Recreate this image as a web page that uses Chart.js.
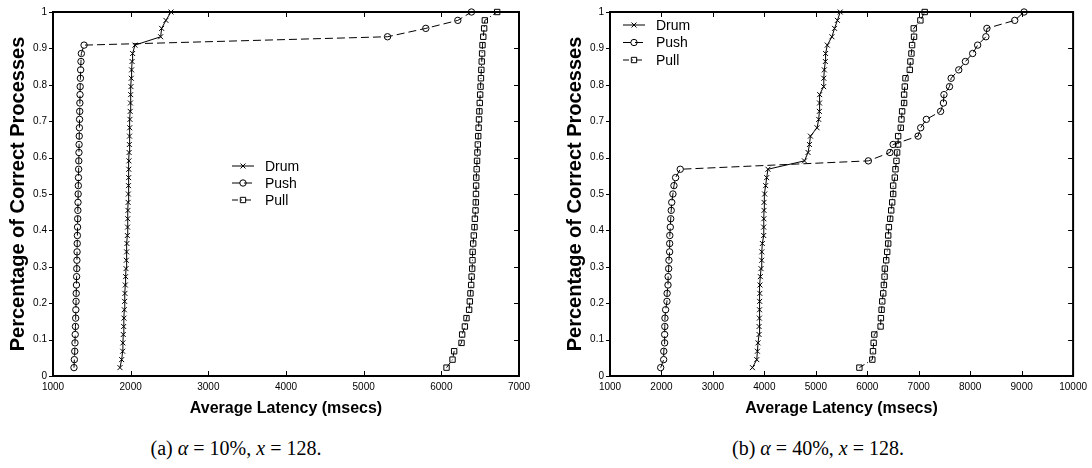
<!DOCTYPE html>
<html>
<head>
<meta charset="utf-8">
<script src="https://cdn.jsdelivr.net/npm/chart.js@4.4.0/dist/chart.umd.min.js"></script>
<style>
body { margin: 0; background: #fff; width: 1092px; height: 468px; overflow: hidden; position: relative; }
canvas { position: absolute; top: 0; }
#chartA { left: 0; }
#chartB { left: 557px; }
.caption { position: absolute; top: 437px; font-family: "Liberation Serif", "DejaVu Serif", serif; font-size: 20px; white-space: nowrap; transform: translateX(-50%); color: #000; }
</style>
</head>
<body>
<canvas id="chartA" width="546" height="430"></canvas>
<canvas id="chartB" width="535" height="430"></canvas>
<div class="caption" style="left:236px">(a) <i>α</i> = 10%, <i>x</i> = 128.</div>
<div class="caption" style="left:818px">(b) <i>α</i> = 40%, <i>x</i> = 128.</div>
<script>
// fraction of correct processes that have received the message (y axis)
const fractions = [0.023, 0.045, 0.068, 0.091, 0.114, 0.136, 0.159, 0.182, 0.205, 0.227,
    0.25, 0.273, 0.295, 0.318, 0.341, 0.364, 0.386, 0.409, 0.432, 0.455,
    0.477, 0.5, 0.523, 0.545, 0.568, 0.591, 0.614, 0.636, 0.659, 0.682,
    0.705, 0.727, 0.75, 0.773, 0.795, 0.818, 0.841, 0.864, 0.886, 0.909,
    0.932, 0.955, 0.977, 1.0];

// (a) alpha = 10%
const drumA = [1862, 1884, 1897, 1900, 1905, 1910, 1914, 1918, 1922, 1926,
    1931, 1935, 1940, 1944, 1948, 1952, 1957, 1960, 1962, 1965,
    1967, 1970, 1972, 1974, 1976, 1978, 1980, 1983, 1985, 1988,
    1991, 1994, 1997, 2000, 2004, 2008, 2012, 2018, 2025, 2055,
    2386, 2399, 2454, 2519];
const pushA = [1270, 1275, 1280, 1283, 1286, 1289, 1292, 1294, 1297, 1299,
    1302, 1304, 1306, 1308, 1310, 1312, 1314, 1316, 1318, 1320,
    1322, 1324, 1326, 1328, 1330, 1332, 1334, 1336, 1338, 1340,
    1342, 1344, 1346, 1348, 1350, 1353, 1356, 1360, 1365, 1400,
    5307, 5800, 6212, 6388];
const pullA = [6067, 6144, 6165, 6260, 6268, 6303, 6324, 6358, 6367, 6375,
    6384, 6390, 6397, 6401, 6403, 6410, 6418, 6427, 6432, 6440,
    6444, 6446, 6448, 6450, 6455, 6460, 6465, 6470, 6475, 6480,
    6485, 6490, 6495, 6500, 6505, 6510, 6515, 6520, 6525, 6530,
    6540, 6551, 6560, 6719];

// (b) alpha = 40%
const drumB = [3768, 3852, 3865, 3877, 3897, 3897, 3903, 3906, 3909, 3912,
    3915, 3922, 3935, 3948, 3950, 3961, 3987, 3987, 3990, 3993,
    3993, 4006, 4025, 4045, 4070, 4779, 4849, 4876, 4895, 5024,
    5056, 5069, 5072, 5075, 5152, 5155, 5165, 5185, 5190, 5223,
    5313, 5364, 5420, 5474];
const pushB = [1985, 2043, 2045, 2062, 2062, 2065, 2068, 2081, 2107, 2110,
    2127, 2130, 2140, 2145, 2159, 2160, 2162, 2172, 2180, 2190,
    2200, 2223, 2243, 2275, 2365, 6021, 6440, 6503, 6987, 7038,
    7148, 7425, 7480, 7490, 7598, 7630, 7778, 7907, 8048, 8145,
    8305, 8325, 8866, 9047];
const pullB = [5847, 6098, 6111, 6124, 6137, 6259, 6265, 6278, 6291, 6310,
    6323, 6336, 6342, 6368, 6387, 6407, 6407, 6420, 6445, 6465,
    6484, 6503, 6503, 6535, 6548, 6567, 6580, 6600, 6600, 6651,
    6664, 6677, 6716, 6716, 6729, 6742, 6826, 6838, 6858, 6871,
    6909, 6903, 7032, 7116];

const seriesNames = ['Drum', 'Push', 'Pull'];
const xTickStep = 1000;
const yTickStep = 0.1;

const FONT = '"Liberation Sans", Arial, Helvetica, sans-serif';

function drawMarker(ctx, style, x, y, r) {
    ctx.beginPath();
    if (style === 'circle') {
        ctx.arc(x, y, r, 0, Math.PI * 2);
    } else if (style === 'rect') {
        const s = r * Math.SQRT1_2;
        ctx.rect(x - s, y - s, 2 * s, 2 * s);
    } else {
        const s = r * Math.SQRT1_2;
        ctx.moveTo(x - s, y - s); ctx.lineTo(x + s, y + s);
        ctx.moveTo(x - s, y + s); ctx.lineTo(x + s, y - s);
    }
    ctx.stroke();
}

const lineLegend = {
    id: 'lineLegend',
    afterDraw(chart, args, opts) {
        const ctx = chart.ctx;
        chart.data.datasets.forEach((ds, i) => {
            const y = opts.y + i * opts.step;
            ctx.save();
            ctx.strokeStyle = '#000';
            ctx.lineWidth = 1;
            ctx.setLineDash(ds.borderDash || []);
            ctx.beginPath();
            ctx.moveTo(opts.x, y);
            ctx.lineTo(opts.x + 22, y);
            ctx.stroke();
            ctx.setLineDash([]);
            drawMarker(ctx, ds.pointStyle, opts.x + 11, y, ds.pointRadius);
            ctx.fillStyle = '#000';
            ctx.font = '14px ' + FONT;
            ctx.textBaseline = 'middle';
            ctx.fillText(ds.label, opts.x + 33, y + 1);
            ctx.restore();
        });
    }
};

// box round the plot, ticks pointing in (left ticks point out)
const frameTicks = {
    id: 'frameTicks',
    afterDraw(chart) {
        const ctx = chart.ctx;
        const a = chart.chartArea;
        const xs = chart.scales.x, ys = chart.scales.y;
        ctx.save();
        ctx.strokeStyle = '#000';
        ctx.lineWidth = 1;
        ctx.beginPath();
        xs.ticks.forEach(t => {
            const px = Math.round(xs.getPixelForValue(t.value)) + 0.5;
            ctx.moveTo(px, a.bottom); ctx.lineTo(px, a.bottom - 5);
            ctx.moveTo(px, a.top); ctx.lineTo(px, a.top + 5);
        });
        ys.ticks.forEach(t => {
            const py = Math.round(ys.getPixelForValue(t.value)) + 0.5;
            ctx.moveTo(a.left - 4, py); ctx.lineTo(a.left, py);
            ctx.moveTo(a.right, py); ctx.lineTo(a.right - 5, py);
        });
        ctx.stroke();
        ctx.lineWidth = 2;
        ctx.strokeRect(a.left, a.top, a.right - a.left, a.bottom - a.top);
        ctx.restore();
    }
};

function points(xs) {
    return xs.map((x, i) => ({ x: x, y: fractions[i] }));
}

function makeChart(id, drum, push, pull, xMax, rightPad, legend) {
    const common = {
        borderColor: '#000',
        borderWidth: 1,
        pointBorderColor: '#000',
        pointBackgroundColor: 'rgba(0,0,0,0)',
        pointBorderWidth: 1,
        showLine: true,
        tension: 0,
        clip: false
    };
    return new Chart(document.getElementById(id), {
        type: 'scatter',
        data: {
            datasets: [
                Object.assign({ label: seriesNames[0], data: points(drum), pointStyle: 'crossRot', pointRadius: 3.5, borderDash: [] }, common),
                Object.assign({ label: seriesNames[1], data: points(push), pointStyle: 'circle', pointRadius: 3.2, borderDash: [8, 4] }, common),
                Object.assign({ label: seriesNames[2], data: points(pull), pointStyle: 'rect', pointRadius: 3.8, borderDash: [6, 3, 1, 3] }, common)
            ]
        },
        options: {
            responsive: false,
            animation: false,
            layout: { padding: { top: 8, right: rightPad, left: 0, bottom: 0 } },
            plugins: {
                legend: { display: false },
                tooltip: { enabled: false },
                lineLegend: legend
            },
            scales: {
                x: {
                    type: 'linear',
                    min: 1000,
                    max: xMax,
                    grid: { display: false, drawTicks: false },
                    border: { display: false },
                    ticks: { stepSize: xTickStep, padding: 5, color: '#000', font: { family: FONT, size: 10 }, maxRotation: 0, callback: v => String(v) },
                    title: { display: true, text: 'Average Latency (msecs)', color: '#000', font: { family: FONT, size: 16, weight: 'bold' }, padding: { top: 0, bottom: 12 } },
                    afterFit: s => { s.height = 54; }
                },
                y: {
                    type: 'linear',
                    min: 0,
                    max: 1,
                    grid: { display: false, drawTicks: false },
                    border: { display: false },
                    ticks: { stepSize: yTickStep, padding: 6, color: '#000', font: { family: FONT, size: 10 }, callback: v => String(Math.round(v * 10) / 10) },
                    title: { display: true, text: 'Percentage of Correct Processes', color: '#000', font: { family: FONT, size: 20, weight: 'bold' }, padding: { top: 6, bottom: 0 } },
                    afterFit: s => { s.width = 53; }
                }
            }
        },
        plugins: [lineLegend, frameTicks]
    });
}

makeChart('chartA', drumA, pushA, pullA, 7000, 27, { x: 232, y: 166, step: 17 });
makeChart('chartB', drumB, pushB, pullB, 10000, 16, { x: 66, y: 25, step: 17.5 });
</script>
</body>
</html>
